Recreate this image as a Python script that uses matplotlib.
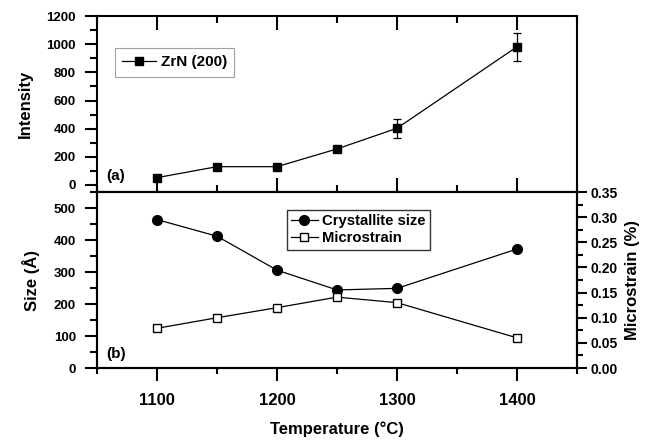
import numpy as np
import matplotlib
matplotlib.use("Agg")
import matplotlib.pyplot as plt
from matplotlib.ticker import MultipleLocator

plt.rcParams['font.family'] = ['Liberation Sans', 'DejaVu Sans']
plt.rcParams['font.weight'] = 'bold'

# data
temperature = [1100, 1150, 1200, 1250, 1300, 1400]
intensity = [52, 130, 130, 256, 403, 982]
intensity_err = [0, 0, 0, 0, 66, 98]
crystallite_size = [464, 412, 306, 244, 249, 372]
microstrain = [0.079, 0.100, 0.120, 0.141, 0.130, 0.060]

fig = plt.figure(figsize=(6.55, 4.41), dpi=100)
ax_top = fig.add_axes([0.148, 0.5646, 0.733, 0.399])
ax_bot = fig.add_axes([0.148, 0.1655, 0.733, 0.399])
ax_right = ax_bot.twinx()

for ax in (ax_top, ax_bot, ax_right):
    for s in ax.spines.values():
        s.set_linewidth(1.5)

# (a) intensity
ax_top.errorbar(temperature, intensity, yerr=intensity_err, fmt='none', ecolor='black',
                capsize=3, elinewidth=0.9, capthick=0.9)
ax_top.plot(temperature, intensity, color='black', lw=0.9, marker='s', ms=6,
            label='ZrN (200)')
ax_top.set_xlim(1050, 1450)
ax_top.set_ylim(-50, 1200)
ax_top.yaxis.set_major_locator(MultipleLocator(200))
ax_top.yaxis.set_minor_locator(MultipleLocator(100))
ax_top.xaxis.set_major_locator(MultipleLocator(100))
ax_top.xaxis.set_minor_locator(MultipleLocator(50))
ax_top.tick_params(axis='x', which='both', direction='in', top=True, bottom=True,
                   labelbottom=False, width=1.5)
ax_top.tick_params(axis='x', which='major', length=10)
ax_top.tick_params(axis='x', which='minor', length=5)
ax_top.tick_params(axis='y', which='major', direction='out', length=9, width=1.5,
                   pad=6, labelsize=9.5)
ax_top.tick_params(axis='y', which='minor', direction='out', length=5, width=1.5)
ax_top.set_ylabel('Intensity', fontsize=12, fontweight='bold', labelpad=10)
ax_top.text(0.02, 0.05, '(a)', transform=ax_top.transAxes, fontsize=11,
            fontweight='bold', va='bottom')
leg = ax_top.legend(loc='upper left', bbox_to_anchor=(0.037, 0.82), fontsize=11,
                    handlelength=2.2, borderaxespad=0, fancybox=False,
                    borderpad=0.5, handletextpad=0.3)
leg.get_frame().set_edgecolor('#8a8a8a')
leg.get_frame().set_linewidth(0.8)

# (b) crystallite size and microstrain
l1, = ax_bot.plot(temperature, crystallite_size, color='black', lw=0.9, marker='o',
                  ms=7, label='Crystallite size')
l2, = ax_right.plot(temperature, microstrain, color='black', lw=0.9, marker='s',
                    ms=5.5, mfc='white', mew=1.0, label='Microstrain')
ax_bot.set_xlim(1050, 1450)
ax_bot.set_ylim(0, 550)
ax_right.set_ylim(0, 0.35)
ax_bot.xaxis.set_major_locator(MultipleLocator(100))
ax_bot.xaxis.set_minor_locator(MultipleLocator(50))
ax_bot.yaxis.set_major_locator(MultipleLocator(100))
ax_bot.yaxis.set_minor_locator(MultipleLocator(50))
ax_right.yaxis.set_major_locator(MultipleLocator(0.05))
ax_right.yaxis.set_minor_locator(MultipleLocator(0.025))
ax_right.yaxis.set_major_formatter(plt.FormatStrFormatter('%.2f'))

ax_bot.tick_params(axis='x', which='both', direction='out', width=1.5, top=False)
ax_bot.tick_params(axis='x', which='major', length=9, pad=9, labelsize=12)
ax_bot.tick_params(axis='x', which='minor', length=4)
ax_bot.tick_params(axis='y', which='major', direction='out', length=9, width=1.5,
                   pad=6, labelsize=9.5)
ax_bot.tick_params(axis='y', which='minor', direction='out', length=5, width=1.5)
ax_right.tick_params(axis='y', which='major', direction='out', length=7, width=1.5,
                     pad=3, labelsize=10)
ax_right.tick_params(axis='y', which='minor', direction='out', length=4, width=1.5)

ax_bot.set_ylabel('Size (Å)', fontsize=12, fontweight='bold', labelpad=10)
ax_right.set_ylabel('Microstrain (%)', fontsize=12, fontweight='bold', labelpad=5)
ax_bot.set_xlabel('Temperature (°C)', fontsize=12, fontweight='bold', labelpad=10)
ax_bot.text(0.02, 0.04, '(b)', transform=ax_bot.transAxes, fontsize=11,
            fontweight='bold', va='bottom')

leg2 = ax_bot.legend([l1, l2], ['Crystallite size', 'Microstrain'], loc='upper left',
                     bbox_to_anchor=(0.395, 0.9), fontsize=10.7, handlelength=1.8,
                     borderaxespad=0, fancybox=False, borderpad=0.3,
                     handletextpad=0.3, labelspacing=0.2)
leg2.get_frame().set_edgecolor('black')
leg2.get_frame().set_linewidth(1.0)

fig.savefig('out.png', dpi=100)
